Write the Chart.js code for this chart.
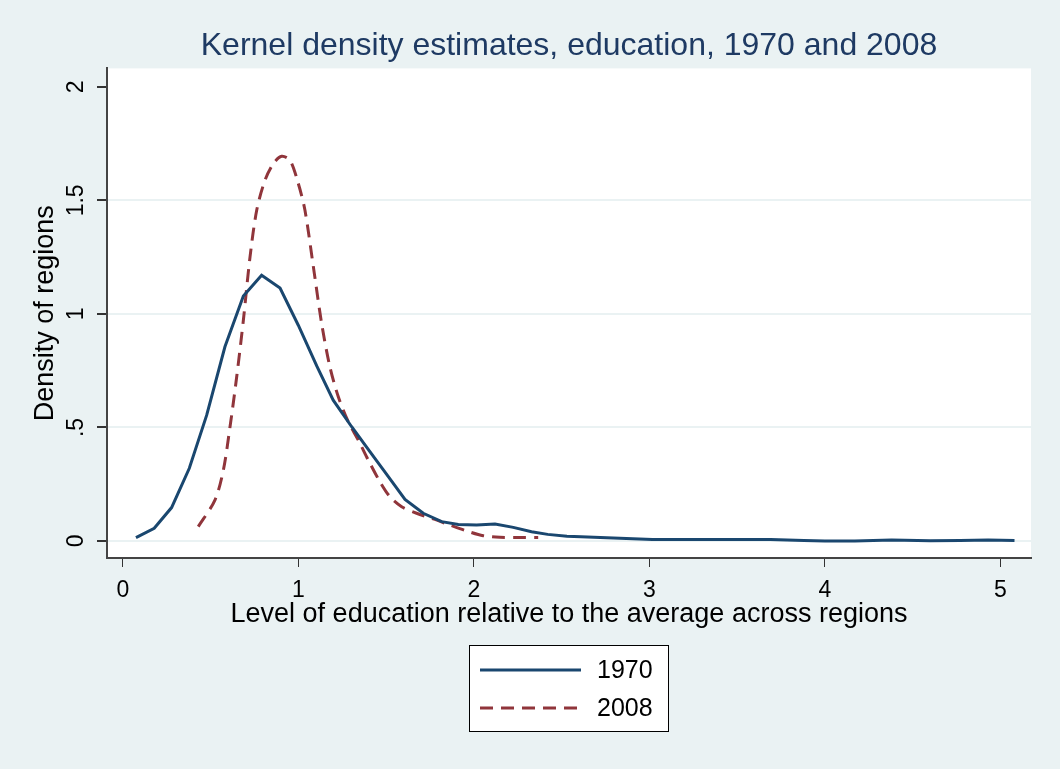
<!DOCTYPE html>
<html>
<head>
<meta charset="utf-8">
<script src="https://cdn.jsdelivr.net/npm/chart.js@4.4.1/dist/chart.umd.min.js"></script>
<style>
  html, body { margin: 0; padding: 0; background: #eaf2f3; }
  #wrap { width: 1060px; height: 769px; }
</style>
</head>
<body>
<div id="wrap"><canvas id="kdChart" width="1060" height="769"></canvas></div>
<script>
// kernel density, 1970
const x1970 = [0.074, 0.178, 0.277, 0.378, 0.477, 0.581, 0.686, 0.790, 0.895, 0.999,
  1.104, 1.198, 1.303, 1.407, 1.512, 1.607, 1.711, 1.816, 1.911, 2.015,
  2.120, 2.224, 2.328, 2.420, 2.530, 2.610, 2.720, 3.017, 3.690, 3.880,
  4.000, 4.170, 4.380, 4.600, 4.770, 4.930, 5.080];
const y1970 = [0.015, 0.056, 0.147, 0.320, 0.554, 0.855, 1.079, 1.170, 1.114, 0.950,
  0.771, 0.620, 0.503, 0.393, 0.283, 0.183, 0.122, 0.085, 0.073, 0.070,
  0.075, 0.060, 0.041, 0.029, 0.021, 0.019, 0.015, 0.007, 0.007, 0.002,
  0.000, 0.000, 0.004, 0.001, 0.002, 0.004, 0.002];

// kernel density, 2008
const x2008 = [0.429, 0.524, 0.572, 0.610, 0.648, 0.686, 0.724, 0.762, 0.809, 0.857,
  0.904, 0.952, 0.999, 1.037, 1.085, 1.132, 1.179, 1.227, 1.284, 1.341,
  1.398, 1.464, 1.521, 1.588, 1.673, 1.768, 1.863, 1.958, 2.053, 2.148,
  2.262, 2.366];
const y2008 = [0.063, 0.180, 0.312, 0.503, 0.723, 0.972, 1.251, 1.456, 1.588, 1.662,
  1.694, 1.676, 1.574, 1.456, 1.207, 0.958, 0.767, 0.635, 0.525, 0.444,
  0.356, 0.261, 0.195, 0.151, 0.122, 0.097, 0.070, 0.044, 0.023, 0.016,
  0.015, 0.015];

const xTicks = [0, 1, 2, 3, 4, 5];
const yTicks = [0, 0.5, 1, 1.5, 2];
const yTickLabels = ['0', '.5', '1', '1.5', '2'];

const BG = '#eaf2f3';
const FONT = '"Liberation Sans", Arial, sans-serif';

const pts = (xs, ys) => xs.map((x, i) => ({ x: x, y: ys[i] }));

// fond gris + zone de tracé blanche
const bgPlugin = {
  id: 'bg',
  beforeDraw(chart) {
    const c = chart.ctx, a = chart.chartArea;
    c.save();
    c.fillStyle = BG;
    c.fillRect(0, 0, chart.width, chart.height);
    c.fillStyle = '#ffffff';
    c.fillRect(a.left, a.top, a.right - a.left, a.bottom - a.top);
    c.restore();
  }
};

// légende encadrée sous le graphique
const boxLegend = {
  id: 'boxLegend',
  afterDraw(chart) {
    const c = chart.ctx;
    const bx = 469.5, by = 645.5, bw = 199, bh = 86;
    c.save();
    c.fillStyle = '#ffffff';
    c.fillRect(bx, by, bw, bh);
    c.strokeStyle = '#000000';
    c.lineWidth = 1;
    c.strokeRect(bx, by, bw, bh);
    chart.data.datasets.forEach((ds, i) => {
      const y = 670 + i * 38;
      c.beginPath();
      c.strokeStyle = ds.borderColor;
      c.lineWidth = ds.borderWidth;
      c.setLineDash(ds.borderDash || []);
      c.moveTo(480, y);
      c.lineTo(581, y);
      c.stroke();
      c.setLineDash([]);
      c.fillStyle = '#000000';
      c.font = '25px ' + FONT;
      c.textBaseline = 'middle';
      c.textAlign = 'left';
      c.fillText(ds.label, 597, y + 1);
    });
    c.restore();
  }
};

const ctx = document.getElementById('kdChart').getContext('2d');
const kdChart = new Chart(ctx, {
  type: 'line',
  data: {
    datasets: [{
      label: '1970',
      data: pts(x1970, y1970),
      borderColor: '#1a476f',
      borderWidth: 3,
      pointRadius: 0,
      tension: 0,
      fill: false
    }, {
      label: '2008',
      data: pts(x2008, y2008),
      borderColor: '#90353b',
      borderWidth: 3,
      borderDash: [13, 8],
      pointRadius: 0,
      tension: 0.3,
      fill: false
    }]
  },
  plugins: [bgPlugin, boxLegend],
  options: {
    responsive: false,
    animation: false,
    layout: { padding: { left: 0, right: 29, top: 0, bottom: 129 } },
    plugins: {
      legend: { display: false },
      tooltip: { enabled: false },
      title: {
        display: true,
        fullSize: false,
        text: 'Kernel density estimates, education, 1970 and 2008',
        color: '#1e3a63',
        font: { family: FONT, size: 32, weight: 'normal' },
        padding: { top: 27, bottom: 3 }
      }
    },
    scales: {
      x: {
        type: 'linear',
        min: -0.091,
        max: 5.174,
        afterBuildTicks: s => { s.ticks = xTicks.map(v => ({ value: v })); },
        afterFit: s => { s.height = 82; },
        ticks: {
          color: '#000000',
          padding: 10,
          maxRotation: 0,
          font: { family: FONT, size: 23 }
        },
        grid: {
          display: true,
          drawOnChartArea: false,
          drawTicks: true,
          tickLength: 9,
          tickColor: '#333333',
          lineWidth: 1
        },
        border: { display: true, color: '#444444', width: 2 },
        title: {
          display: true,
          text: 'Level of education relative to the average across regions',
          color: '#000000',
          font: { family: FONT, size: 27 },
          padding: { top: 0, bottom: 9 }
        }
      },
      y: {
        type: 'linear',
        min: -0.075,
        max: 2.081,
        afterBuildTicks: s => { s.ticks = yTicks.map(v => ({ value: v })); },
        afterFit: s => { s.width = 107; },
        ticks: {
          color: '#000000',
          padding: 4,
          minRotation: 90,
          maxRotation: 90,
          crossAlign: 'center',
          font: { family: FONT, size: 23 },
          callback: v => yTickLabels[yTicks.indexOf(v)]
        },
        grid: {
          drawTicks: true,
          tickLength: 10,
          tickColor: '#333333',
          lineWidth: 2,
          color: c => (c.tick && c.tick.value === 2) ? 'rgba(0,0,0,0)' : BG
        },
        border: { display: true, color: '#444444', width: 2 },
        title: {
          display: true,
          text: 'Density of regions',
          color: '#000000',
          font: { family: FONT, size: 27 },
          padding: { top: 29, bottom: 0 }
        }
      }
    }
  }
});
</script>
</body>
</html>
